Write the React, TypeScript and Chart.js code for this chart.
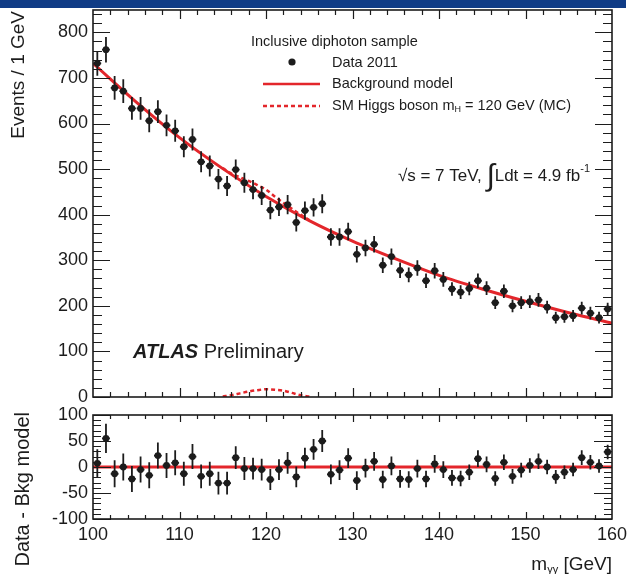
import React, { useEffect, useRef } from "react";
import { Chart, registerables } from "chart.js";

Chart.register(...registerables);

const FONT = '"Liberation Sans", Arial, Helvetica, sans-serif';
const RED = "#e3262b";
const INK = "#1c1c1c";

// diphoton invariant mass bin centres [GeV]
const binCenters = [
  100.5, 101.5, 102.5, 103.5, 104.5, 105.5, 106.5, 107.5, 108.5, 109.5,
  110.5, 111.5, 112.5, 113.5, 114.5, 115.5, 116.5, 117.5, 118.5, 119.5,
  120.5, 121.5, 122.5, 123.5, 124.5, 125.5, 126.5, 127.5, 128.5, 129.5,
  130.5, 131.5, 132.5, 133.5, 134.5, 135.5, 136.5, 137.5, 138.5, 139.5,
  140.5, 141.5, 142.5, 143.5, 144.5, 145.5, 146.5, 147.5, 148.5, 149.5,
  150.5, 151.5, 152.5, 153.5, 154.5, 155.5, 156.5, 157.5, 158.5, 159.5,
];

// Data 2011: events / 1 GeV
const eventCounts = [
  732, 762, 678, 671, 633, 633, 606, 626, 596, 584,
  549, 565, 516, 507, 478, 463, 499, 470, 455, 442,
  410, 417, 422, 383, 409, 416, 424, 351, 351, 363,
  313, 327, 335, 289, 308, 278, 268, 283, 255, 277,
  258, 237, 230, 238, 255, 239, 207, 232, 200, 207,
  209, 213, 197, 174, 176, 178, 195, 184, 174, 193,
];

// statistical uncertainty of each bin
const statErrors = [
  27, 28, 26, 26, 25, 25, 25, 25, 24, 24,
  23, 24, 23, 23, 22, 22, 22, 22, 21, 21,
  20, 20, 21, 20, 20, 20, 21, 19, 19, 19,
  18, 18, 18, 17, 18, 17, 16, 17, 16, 17,
  16, 15, 15, 15, 16, 15, 14, 15, 14, 14,
  14, 15, 14, 13, 13, 13, 14, 14, 13, 14,
];

// Data - Bkg model
const residuals = [
  7, 55, -13, 0, -23, -5, -16, 22, 3, 8,
  -13, 20, -18, -13, -31, -31, 18, -3, -3, -5,
  -24, -5, 8, -19, 17, 34, 50, -14, -6, 17,
  -26, -2, 11, -24, 2, -23, -24, -3, -23, 6,
  -5, -21, -22, -10, 16, 5, -22, 9, -18, -6,
  3, 11, 0, -19, -10, -5, 18, 9, 2, 29,
];

// Background model curve
const modelMass = [100, 105, 110, 115, 120, 125, 130, 135, 140, 145, 150, 155, 160];
const modelEvents = [732, 647, 569, 501, 440, 387, 342, 303, 267, 237, 210, 185, 162];

// SM Higgs boson mH = 120 GeV (MC)
const higgsMass = [115, 116, 117, 118, 119, 120, 121, 122, 123, 124, 125];
const higgsEvents = [1, 4, 8, 12, 15, 17, 16, 14, 9, 4, 1];
const higgsPlusBkgEvents = [502, 490, 482, 474, 465, 455, 440, 426, 413, 400, 388];

const xTickLabels = ["100", "110", "120", "130", "140", "150", "160"];

const pts = (xs: number[], ys: number[]) => xs.map((x, i) => ({ x, y: ys[i] }));

function errorBars(xs: number[], ys: number[], errs: number[]) {
  return {
    id: "errorBars",
    afterDatasetsDraw(chart: any) {
      const { ctx, chartArea: a, scales } = chart;
      const sx = scales.x, sy = scales.y;
      ctx.save();
      ctx.beginPath();
      ctx.rect(a.left, a.top, a.right - a.left, a.bottom - a.top);
      ctx.clip();
      ctx.strokeStyle = INK;
      ctx.lineWidth = 1.8;
      ctx.beginPath();
      xs.forEach((xv, i) => {
        const px = sx.getPixelForValue(xv);
        const py = sy.getPixelForValue(ys[i]);
        ctx.moveTo(px, sy.getPixelForValue(ys[i] + errs[i]));
        ctx.lineTo(px, sy.getPixelForValue(ys[i] - errs[i]));
        ctx.moveTo(sx.getPixelForValue(xv - 0.45), py);
        ctx.lineTo(sx.getPixelForValue(xv + 0.45), py);
      });
      ctx.stroke();
      ctx.restore();
    },
  };
}

function frameTicks(c: {
  xMinor: number; xMajor: number; yMinor: number; yMajor: number;
  xMaj: number; xMin: number; yMaj: number; yMin: number;
}) {
  return {
    id: "frameTicks",
    afterDatasetsDraw(chart: any) {
      const { ctx, chartArea: a, scales } = chart;
      const sx = scales.x, sy = scales.y;
      ctx.save();
      ctx.strokeStyle = INK;
      ctx.lineWidth = 1.2;
      ctx.beginPath();
      const nx = Math.round((sx.max - sx.min) / c.xMinor);
      for (let i = 1; i < nx; i++) {
        const v = sx.min + i * c.xMinor;
        const major = Math.abs(v / c.xMajor - Math.round(v / c.xMajor)) < 1e-6;
        const len = major ? c.xMaj : c.xMin;
        const px = Math.round(sx.getPixelForValue(v)) + 0.5;
        ctx.moveTo(px, a.bottom);
        ctx.lineTo(px, a.bottom - len);
        ctx.moveTo(px, a.top);
        ctx.lineTo(px, a.top + len);
      }
      const start = Math.ceil(sy.min / c.yMinor);
      const end = Math.floor(sy.max / c.yMinor);
      for (let k = start; k <= end; k++) {
        const v = k * c.yMinor;
        const major = Math.abs(v / c.yMajor - Math.round(v / c.yMajor)) < 1e-6;
        const len = major ? c.yMaj : c.yMin;
        const py = Math.round(sy.getPixelForValue(v)) + 0.5;
        ctx.moveTo(a.left, py);
        ctx.lineTo(a.left + len, py);
        ctx.moveTo(a.right, py);
        ctx.lineTo(a.right - len, py);
      }
      ctx.stroke();
      ctx.lineWidth = 1.6;
      ctx.strokeRect(a.left, a.top, a.right - a.left, a.bottom - a.top);
      ctx.restore();
    },
  };
}

function drawSeq(ctx: any, x: number, y: number, parts: { t: string; f: string; dy?: number }[], align: "left" | "right" = "left") {
  let total = 0;
  parts.forEach((p) => { ctx.font = p.f; total += ctx.measureText(p.t).width; });
  let cx = align === "left" ? x : x - total;
  ctx.textAlign = "left";
  parts.forEach((p) => {
    ctx.font = p.f;
    ctx.fillText(p.t, cx, y + (p.dy || 0));
    cx += ctx.measureText(p.t).width;
  });
}

const mainText = {
  id: "mainText",
  afterDraw(chart: any) {
    const ctx = chart.ctx;
    ctx.save();
    ctx.fillStyle = INK;
    ctx.textBaseline = "middle";
    // y title
    ctx.save();
    ctx.translate(19, 11);
    ctx.rotate(-Math.PI / 2);
    ctx.textAlign = "right";
    ctx.font = `19px ${FONT}`;
    ctx.fillText("Events / 1 GeV", 0, 0);
    ctx.restore();
    // legend
    ctx.font = `14.5px ${FONT}`;
    ctx.textAlign = "left";
    ctx.fillText("Inclusive diphoton sample", 251, 42);
    ctx.beginPath();
    ctx.arc(292, 62, 3.6, 0, Math.PI * 2);
    ctx.fill();
    ctx.fillText("Data 2011", 332, 63);
    ctx.strokeStyle = RED;
    ctx.lineWidth = 2.5;
    ctx.beginPath();
    ctx.moveTo(263, 84);
    ctx.lineTo(320, 84);
    ctx.stroke();
    ctx.fillText("Background model", 332, 84);
    ctx.setLineDash([4, 3]);
    ctx.beginPath();
    ctx.moveTo(263, 106);
    ctx.lineTo(320, 106);
    ctx.stroke();
    ctx.setLineDash([]);
    drawSeq(ctx, 332, 106, [
      { t: "SM Higgs boson m", f: `14.5px ${FONT}` },
      { t: "H", f: `9px ${FONT}`, dy: 4 },
      { t: " = 120 GeV (MC)", f: `14.5px ${FONT}` },
    ]);
    // energy / luminosity
    drawSeq(ctx, 590, 176, [
      { t: "\u221As = 7 TeV, ", f: `17px ${FONT}` },
      { t: "\u222B", f: `italic 30px ${FONT}`, dy: 1 },
      { t: "Ldt = 4.9 fb", f: `17px ${FONT}` },
      { t: "-1", f: `11px ${FONT}`, dy: -7 },
    ], "right");
    // ATLAS Preliminary
    drawSeq(ctx, 133, 352, [
      { t: "ATLAS", f: `italic bold 20px ${FONT}` },
      { t: " Preliminary", f: `20px ${FONT}` },
    ]);
    ctx.restore();
  },
};

const resText = {
  id: "resText",
  afterDraw(chart: any) {
    const ctx = chart.ctx;
    ctx.save();
    ctx.fillStyle = INK;
    ctx.textBaseline = "middle";
    ctx.save();
    ctx.translate(23, 412);
    ctx.rotate(-Math.PI / 2);
    ctx.textAlign = "right";
    ctx.font = `20px ${FONT}`;
    ctx.fillText("Data - Bkg model", 0, 0);
    ctx.restore();
    drawSeq(ctx, 612, 565, [
      { t: "m", f: `19px ${FONT}` },
      { t: "\u03B3\u03B3", f: `11px ${FONT}`, dy: 5 },
      { t: " [GeV]", f: `19px ${FONT}` },
    ], "right");
    ctx.restore();
  },
};

const tickFont = { family: FONT, size: 18 };

export default function App() {
  const topRef = useRef<HTMLCanvasElement>(null);
  const botRef = useRef<HTMLCanvasElement>(null);

  useEffect(() => {
    const main = new Chart(topRef.current as HTMLCanvasElement, {
      type: "scatter",
      data: {
        datasets: [
          {
            label: "Data 2011",
            data: pts(binCenters, eventCounts),
            pointRadius: 3.4,
            pointBackgroundColor: INK,
            pointBorderWidth: 0,
            order: 0,
          } as any,
          {
            label: "Background model",
            data: pts(modelMass, modelEvents),
            showLine: true,
            borderColor: RED,
            borderWidth: 3,
            pointRadius: 0,
            cubicInterpolationMode: "monotone",
            order: 3,
          },
          {
            label: "Signal + background",
            data: pts(higgsMass, higgsPlusBkgEvents),
            showLine: true,
            borderColor: RED,
            borderWidth: 2.5,
            borderDash: [4, 3],
            pointRadius: 0,
            cubicInterpolationMode: "monotone",
            order: 2,
          },
          {
            label: "SM Higgs boson",
            data: pts(higgsMass, higgsEvents),
            showLine: true,
            borderColor: RED,
            borderWidth: 2.5,
            borderDash: [4, 3],
            pointRadius: 0,
            cubicInterpolationMode: "monotone",
            order: 2,
          },
        ],
      },
      options: {
        responsive: false,
        animation: false,
        devicePixelRatio: 1,
        layout: { padding: { left: 0, right: 16, top: 10, bottom: 574 - 397 } },
        plugins: { legend: { display: false }, tooltip: { enabled: false } },
        scales: {
          x: {
            type: "linear", min: 100, max: 160, display: false,
          },
          y: {
            type: "linear", min: 0, max: 849,
            grid: { display: false, drawTicks: false },
            border: { display: false },
            ticks: { stepSize: 100, includeBounds: false, font: tickFont, color: INK, padding: 5 },
            afterFit: (s: any) => { s.width = 93; s.paddingTop = 0; s.paddingBottom = 0; },
          },
        },
      } as any,
      plugins: [
        errorBars(binCenters, eventCounts, statErrors),
        frameTicks({ xMinor: 2, xMajor: 10, yMinor: 20, yMajor: 100, xMaj: 9, xMin: 5, yMaj: 17, yMin: 9 }),
        mainText,
      ],
    });

    const res = new Chart(botRef.current as HTMLCanvasElement, {
      type: "scatter",
      data: {
        datasets: [
          {
            label: "Data - Bkg model",
            data: pts(binCenters, residuals),
            pointRadius: 3.4,
            pointBackgroundColor: INK,
            pointBorderWidth: 0,
            order: 0,
          } as any,
          {
            label: "zero",
            data: pts([100, 160], [0, 0]),
            showLine: true,
            borderColor: RED,
            borderWidth: 3,
            pointRadius: 0,
            order: 2,
          },
        ],
      },
      options: {
        responsive: false,
        animation: false,
        devicePixelRatio: 1,
        layout: { padding: { left: 0, right: 16, top: 415, bottom: 0 } },
        plugins: { legend: { display: false }, tooltip: { enabled: false } },
        scales: {
          x: {
            type: "linear", min: 100, max: 160,
            grid: { display: false, drawTicks: false },
            border: { display: false },
            ticks: {
              stepSize: 10, font: tickFont, color: INK, padding: 5,
              callback: (_v: any, i: number) => xTickLabels[i],
            },
            afterFit: (s: any) => { s.height = 55; s.paddingLeft = 0; s.paddingRight = 0; },
          },
          y: {
            type: "linear", min: -100, max: 100,
            grid: { display: false, drawTicks: false },
            border: { display: false },
            ticks: { stepSize: 50, font: tickFont, color: INK, padding: 5 },
            afterFit: (s: any) => { s.width = 93; s.paddingTop = 0; s.paddingBottom = 0; },
          },
        },
      } as any,
      plugins: [
        errorBars(binCenters, residuals, statErrors),
        frameTicks({ xMinor: 2, xMajor: 10, yMinor: 10, yMajor: 50, xMaj: 7, xMin: 4, yMaj: 18, yMin: 8 }),
        resText,
      ],
    });

    return () => {
      main.destroy();
      res.destroy();
    };
  }, []);

  return (
    <div style={{ position: "fixed", left: 0, top: 0, width: 628, height: 574, background: "#fff", overflow: "hidden" }}>
      <canvas ref={topRef} width={628} height={574} style={{ position: "absolute", left: 0, top: 0 }} />
      <canvas ref={botRef} width={628} height={574} style={{ position: "absolute", left: 0, top: 0 }} />
      <div style={{ position: "absolute", left: 0, top: 0, width: 626, height: 8, background: "#103c86" }} />
    </div>
  );
}
